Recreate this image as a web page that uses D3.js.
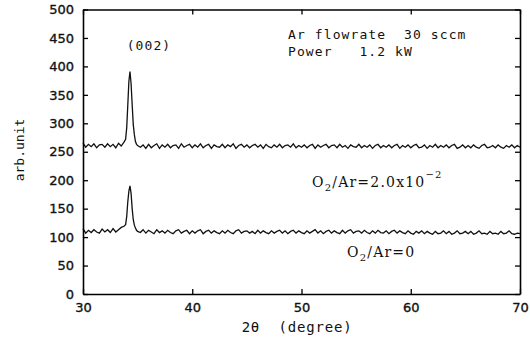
<!DOCTYPE html>
<html>
<head>
<meta charset="utf-8">
<script src="https://cdn.jsdelivr.net/npm/d3@7"></script>
<style>
  body { margin: 0; background: #fff; }
</style>
</head>
<body>
<script>
// diffraction angle (2 theta) samples, denser around the (002) peak
const angles = [
  30, 30.25, 30.5, 30.75, 31, 31.25, 31.5, 31.75, 32, 32.25, 32.5, 32.75, 33, 33.25, 33.5, 33.75,
  33.9, 34.0, 34.1, 34.2, 34.3, 34.4, 34.5, 34.6, 34.7, 34.8, 34.9, 35.0,
  35.25, 35.5, 35.75, 36, 36.25, 36.5, 36.75, 37, 37.25, 37.5,
  37.75, 38, 38.25, 38.5, 38.75, 39, 39.25, 39.5, 39.75, 40,
  40.25, 40.5, 40.75, 41, 41.25, 41.5, 41.75, 42, 42.25, 42.5,
  42.75, 43, 43.25, 43.5, 43.75, 44, 44.25, 44.5, 44.75, 45,
  45.25, 45.5, 45.75, 46, 46.25, 46.5, 46.75, 47, 47.25, 47.5,
  47.75, 48, 48.25, 48.5, 48.75, 49, 49.25, 49.5, 49.75, 50,
  50.25, 50.5, 50.75, 51, 51.25, 51.5, 51.75, 52, 52.25, 52.5,
  52.75, 53, 53.25, 53.5, 53.75, 54, 54.25, 54.5, 54.75, 55,
  55.25, 55.5, 55.75, 56, 56.25, 56.5, 56.75, 57, 57.25, 57.5,
  57.75, 58, 58.25, 58.5, 58.75, 59, 59.25, 59.5, 59.75, 60,
  60.25, 60.5, 60.75, 61, 61.25, 61.5, 61.75, 62, 62.25, 62.5,
  62.75, 63, 63.25, 63.5, 63.75, 64, 64.25, 64.5, 64.75, 65,
  65.25, 65.5, 65.75, 66, 66.25, 66.5, 66.75, 67, 67.25, 67.5,
  67.75, 68, 68.25, 68.5, 68.75, 69, 69.25, 69.5, 69.75, 70
];

// O2/Ar = 2.0x10^-2
const withOxygen = [
  265, 258, 263, 259, 264, 257, 262, 263, 258, 264, 259, 263, 257, 265, 260, 267,
  272, 292, 332, 374, 391, 370, 333, 298, 280, 268, 263, 261,
  258, 262, 256, 263, 257, 261, 264, 256, 262, 258,
  263, 257, 261, 262, 256, 264, 258, 261, 263, 257,
  262, 258, 264, 257, 261, 263, 256, 262, 259, 258,
  263, 257, 262, 259, 264, 256, 261, 263, 258, 262,
  257, 261, 263, 258, 262, 256, 263, 259, 257, 262,
  258, 263, 257, 261, 262, 258, 264, 257, 261, 258,
  262, 257, 261, 263, 256, 262, 258, 261, 263, 257,
  261, 262, 257, 263, 258, 261, 256, 262, 259, 258,
  263, 257, 261, 258, 262, 256, 261, 263, 257, 261,
  258, 262, 257, 261, 263, 256, 261, 258, 262, 257,
  261, 263, 257, 258, 262, 256, 261, 258, 263, 257,
  261, 258, 262, 257, 261, 263, 256, 258, 262, 257,
  261, 257, 262, 258, 256, 261, 263, 257, 258, 261,
  257, 262, 258, 256, 261, 258, 262, 257, 261, 258
];

// O2/Ar = 0
const noOxygen = [
  115, 107, 112, 108, 113, 109, 107, 114, 109, 113, 108, 115, 109, 113, 117, 119,
  122, 136, 162, 181, 190, 177, 150, 131, 121, 116, 112, 110,
  108, 113, 107, 112, 109, 106, 113, 108, 111, 107,
  112, 108, 106, 111, 113, 107, 110, 112, 106, 111,
  107, 111, 113, 106, 110, 112, 107, 111, 108, 106,
  111, 107, 112, 108, 106, 111, 113, 107, 110, 111,
  107, 110, 106, 112, 107, 111, 108, 106, 111, 107,
  110, 112, 107, 111, 106, 110, 112, 107, 111, 108,
  106, 111, 107, 110, 113, 107, 111, 106, 110, 112,
  107, 111, 108, 106, 112, 107, 111, 113, 107, 110,
  111, 107, 112, 108, 106, 111, 107, 112, 108, 107,
  111, 106, 110, 112, 107, 111, 108, 106, 111, 107,
  105, 110, 107, 111, 106, 110, 107, 105, 110, 106,
  107, 111, 106, 110, 105, 107, 111, 106, 107, 110,
  106, 110, 105, 107, 111, 106, 107, 105, 110, 106,
  107, 105, 110, 106, 107, 111, 106, 105, 107, 106
];

const xTicks = [30, 40, 50, 60, 70];
const yTicks = [0, 50, 100, 150, 200, 250, 300, 350, 400, 450, 500];

const width = 530;
const height = 348;
const plotLeft = 83, plotRight = 520, plotTop = 9.5, plotBottom = 294;

const svg = d3.select("body").append("svg")
    .attr("width", width)
    .attr("height", height)
    .style("font-family", "DejaVu Sans");

const x = d3.scaleLinear().domain([30, 70]).range([plotLeft, plotRight]);
const y = d3.scaleLinear().domain([0, 500]).range([plotBottom, plotTop]);

const line = d3.line()
  .x((d, i) => x(angles[i]))
  .y(d => y(d));

// spectra
[withOxygen, noOxygen].forEach(series => {
  svg.append("path")
    .datum(series)
    .attr("d", line)
    .attr("fill", "none")
    .attr("stroke", "#111")
    .attr("stroke-width", 1.3)
    .attr("stroke-linejoin", "miter");
});

// axes, ticks pointing into the frame
const axisStyle = g => {
  g.select(".domain").attr("stroke", "#000").attr("stroke-width", 1.6);
  g.selectAll(".tick line").attr("stroke", "#000").attr("stroke-width", 1.3);
  g.selectAll(".tick text")
    .attr("fill", "#111")
    .attr("stroke", "#111")
    .attr("stroke-width", 0.35)
    .style("font-family", "DejaVu Sans")
    .style("font-size", "13px");
};

svg.append("g")
  .attr("transform", `translate(0,${plotBottom})`)
  .call(d3.axisBottom(x).tickValues(xTicks).tickSizeInner(-5).tickSizeOuter(0).tickPadding(9))
  .call(axisStyle);

svg.append("g")
  .attr("transform", `translate(0,${plotTop})`)
  .call(d3.axisTop(x).tickValues(xTicks).tickSizeInner(-5).tickSizeOuter(0).tickFormat(""))
  .call(axisStyle);

svg.append("g")
  .attr("transform", `translate(${plotLeft},0)`)
  .call(d3.axisLeft(y).tickValues(yTicks).tickSizeInner(-5).tickSizeOuter(0).tickPadding(9))
  .call(axisStyle);

svg.append("g")
  .attr("transform", `translate(${plotRight},0)`)
  .call(d3.axisRight(y).tickValues(yTicks).tickSizeInner(-5).tickSizeOuter(0).tickFormat(""))
  .call(axisStyle);

// axis titles
svg.append("text")
  .attr("x", 297)
  .attr("y", 332)
  .attr("text-anchor", "middle")
  .style("font-family", "DejaVu Sans Mono")
  .style("font-size", "14px")
  .style("letter-spacing", "0.8px")
  .style("white-space", "pre")
  .attr("fill", "#111")
  .text("2\u03B8  (degree)");

svg.append("text")
  .attr("transform", "translate(24,150) rotate(-90)")
  .attr("text-anchor", "middle")
  .style("font-family", "DejaVu Sans Mono")
  .style("font-size", "13px")
  .attr("fill", "#111")
  .text("arb.unit");

// annotations
const mono = sel => sel
  .style("font-family", "DejaVu Sans Mono")
  .style("font-size", "13px")
  .style("letter-spacing", "1.1px")
  .attr("fill", "#111");

svg.append("text").attr("x", 288).attr("y", 39).call(mono)
  .style("white-space", "pre").text("Ar flowrate  30 sccm");
svg.append("text").attr("x", 288).attr("y", 56).call(mono)
  .style("white-space", "pre").text("Power   1.2 kW");
svg.append("text").attr("x", x(34.3) + 19).attr("y", 50).attr("text-anchor", "middle").call(mono)
  .text("(002)");

const serif = sel => sel
  .style("font-family", "DejaVu Serif")
  .style("font-size", "14px")
  .style("letter-spacing", "1.2px")
  .attr("fill", "#111");

const upper = svg.append("text").attr("x", 312).attr("y", 187).call(serif);
upper.append("tspan").text("O");
upper.append("tspan").attr("dy", 4).style("font-size", "10px").text("2");
upper.append("tspan").attr("dy", -4).text("/Ar=2.0x10");
upper.append("tspan").attr("dy", -9).style("font-size", "10px").text("\u22122");

const lower = svg.append("text").attr("x", 347).attr("y", 257).call(serif);
lower.append("tspan").text("O");
lower.append("tspan").attr("dy", 4).style("font-size", "10px").text("2");
lower.append("tspan").attr("dy", -4).text("/Ar=0");
</script>
</body>
</html>
